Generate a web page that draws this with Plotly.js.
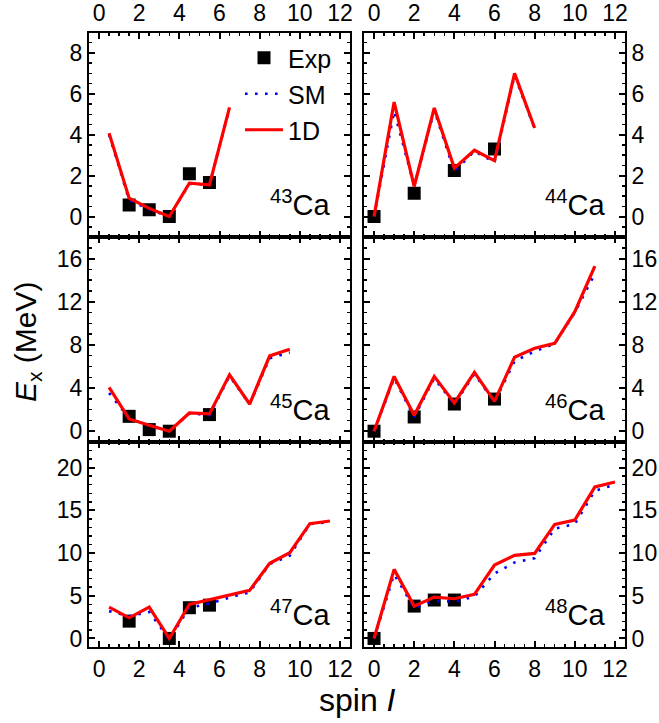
<!DOCTYPE html>
<html>
<head>
<meta charset="utf-8">
<script src="https://cdn.plot.ly/plotly-3.0.1.min.js"></script>
<style>html,body{margin:0;padding:0;background:#fff;}#plot{width:659px;height:723px;}</style>
</head>
<body>
<div id="plot"></div>
<script>
// ---- data (spin, excitation energy in MeV) ----
const isotopes = ["43", "44", "45", "46", "47", "48"];

const spin43 = [0.5, 1.5, 2.5, 3.5, 4.5, 5.5, 6.5];
const oneD43 = [4.08, 0.9, 0.4, 0.0, 1.63, 1.55, 5.34];
const sm43   = [4.0, 0.8, 0.35, 0.0, 1.6, 1.55, 5.3];
const expSpin43 = [1.5, 2.5, 3.5, 4.5, 5.5];
const exp43     = [0.57, 0.33, 0.0, 2.09, 1.67];

const spin44 = [0, 1, 2, 3, 4, 5, 6, 7, 8];
const oneD44 = [0, 5.6, 1.47, 5.31, 2.37, 3.24, 2.73, 7.0, 4.33];
const sm44   = [0, 5.15, 1.5, 5.2, 2.2, 3.2, 2.65, 6.9, 4.3];
const expSpin44 = [0, 2, 4, 6];
const exp44     = [0, 1.14, 2.25, 3.3];

const spin45 = [0.5, 1.5, 2.5, 3.5, 4.5, 5.5, 6.5, 7.5, 8.5, 9.5];
const oneD45 = [4.06, 1.14, 0.55, 0, 1.69, 1.6, 5.23, 2.52, 6.98, 7.6];
const sm45   = [3.54, 1.2, 0.5, 0, 1.65, 1.5, 5.1, 2.5, 6.77, 7.3];
const expSpin45 = [1.5, 2.5, 3.5, 5.5];
const exp45     = [1.38, 0.15, 0, 1.54];

const spin46 = [0, 1, 2, 3, 4, 5, 6, 7, 8, 9, 10, 11];
const oneD46 = [0, 5.08, 1.48, 5.08, 2.62, 5.45, 2.77, 6.86, 7.69, 8.15, 11.08, 15.3];
const sm46   = [0, 4.9, 1.3, 4.9, 2.5, 5.3, 2.7, 6.5, 7.4, 8.1, 11.0, 14.6];
const expSpin46 = [0, 2, 4, 6];
const exp46     = [0, 1.32, 2.52, 2.98];

const spin47 = [0.5, 1.5, 2.5, 3.5, 4.5, 5.5, 6.5, 7.5, 8.5, 9.5, 10.5, 11.5];
const oneD47 = [3.67, 2.42, 3.67, 0, 3.98, 4.5, 5.1, 5.63, 8.8, 10.04, 13.44, 13.75];
const sm47   = [3.2, 2.6, 3.1, -0.1, 3.6, 4.07, 4.8, 5.4, 8.7, 9.7, 13.4, 13.6];
const expSpin47 = [1.5, 3.5, 4.5, 5.5];
const exp47     = [2.03, 0, 3.6, 3.9];

const spin48 = [0, 1, 2, 3, 4, 5, 6, 7, 8, 9, 10, 11, 12];
const oneD48 = [0, 8.09, 3.79, 4.84, 4.65, 5.16, 8.6, 9.73, 9.96, 13.36, 13.87, 17.73, 18.32];
const sm48   = [0, 7.5, 3.6, 4.4, 4.3, 4.9, 7.6, 8.9, 9.4, 12.85, 13.4, 17.3, 18.0];
const expSpin48 = [0, 2, 3, 4];
const exp48     = [0, 3.79, 4.5, 4.5];

const xTickVals = [0, 2, 4, 6, 8, 10, 12];
const yRanges = [[-1, 9], [-1, 18], [-1, 23]];
const yMajor = [2, 4, 5];
const yMinor = [0.5, 1, 1];

// ---- build ----
const panels = [
  [spin43, oneD43, sm43, expSpin43, exp43],
  [spin44, oneD44, sm44, expSpin44, exp44],
  [spin45, oneD45, sm45, expSpin45, exp45],
  [spin46, oneD46, sm46, expSpin46, exp46],
  [spin47, oneD47, sm47, expSpin47, exp47],
  [spin48, oneD48, sm48, expSpin48, exp48]
];

const W = 659, H = 723;
const colX = [[89, 350], [364, 625]];
const rowY = [[32.5, 237], [237, 442], [442, 647]];
const FONT = "Liberation Sans, Arial, sans-serif";

const traces = [];
const layout = {
  width: W, height: H,
  margin: {l: 0, r: 0, t: 0, b: 0},
  paper_bgcolor: "#fff", plot_bgcolor: "#fff",
  font: {family: FONT, color: "#000", size: 22},
  showlegend: true,
  annotations: []
};

panels.forEach((p, i) => {
  const n = i + 1;
  const sfx = n === 1 ? "" : String(n);
  const col = i % 2, row = Math.floor(i / 2);
  const xa = "x" + sfx, ya = "y" + sfx;
  const first = i === 0;
  traces.push({x: p[3], y: p[4], xaxis: xa, yaxis: ya, type: "scatter", mode: "markers",
    name: "Exp", showlegend: first, legend: "legend",
    marker: {symbol: "square", size: 13, color: "#000"}});
  traces.push({x: p[0], y: p[2], xaxis: xa, yaxis: ya, type: "scatter", mode: "lines",
    name: "SM", showlegend: first, legend: "legend2",
    line: {color: "#0000ff", width: 2.6, dash: "2.6px,7.4px"}});
  traces.push({x: p[0], y: p[1], xaxis: xa, yaxis: ya, type: "scatter", mode: "lines",
    name: "1D", showlegend: first, legend: "legend3",
    line: {color: "#ff0000", width: 3.2}});

  const common = {
    showline: true, linewidth: 2, linecolor: "#000", mirror: "allticks",
    ticks: "inside", ticklen: 6, tickwidth: 2, tickcolor: "#000",
    showgrid: false, zeroline: false, fixedrange: true,
    tickfont: {family: FONT, size: 23, color: "#000"}
  };
  layout["xaxis" + sfx] = Object.assign({}, common, {
    domain: [colX[col][0] / W, colX[col][1] / W],
    anchor: ya, range: [-0.5, 12.5],
    tickvals: xTickVals, ticktext: xTickVals.map(String),
    side: row === 0 ? "top" : "bottom",
    showticklabels: row !== 1,
    minor: {dtick: 0.5, tick0: 0, ticks: "inside", ticklen: 3, tickwidth: 1.5, tickcolor: "#000"}
  });
  layout["yaxis" + sfx] = Object.assign({}, common, {
    domain: [1 - rowY[row][1] / H, 1 - rowY[row][0] / H],
    anchor: xa, range: yRanges[row],
    tick0: 0, dtick: yMajor[row],
    side: col === 0 ? "left" : "right",
    minor: {dtick: yMinor[row], tick0: 0, ticks: "inside", ticklen: 3, tickwidth: 1.5, tickcolor: "#000"}
  });
  layout.annotations.push({
    xref: xa + " domain", yref: ya + " domain", x: 0.935, y: 0.07,
    xanchor: "right", yanchor: "bottom", showarrow: false,
    text: "<sup>" + isotopes[i] + "</sup>Ca",
    font: {family: FONT, size: 29, color: "#000"}
  });
});

const legCommon = {xanchor: "left", yanchor: "middle", bgcolor: "rgba(0,0,0,0)",
  borderwidth: 0, font: {family: FONT, size: 25, color: "#000"},
  itemwidth: 38};
layout.legend  = Object.assign({}, legCommon, {x: 240 / W, y: 1 - 58 / H});
layout.legend2 = Object.assign({}, legCommon, {x: 240 / W, y: 1 - 94 / H});
layout.legend3 = Object.assign({}, legCommon, {x: 240 / W, y: 1 - 130 / H});

layout.annotations.push({
  xref: "paper", yref: "paper", x: 27 / W, y: 1 - 342 / H, textangle: -90,
  showarrow: false, xanchor: "center", yanchor: "middle",
  text: "<i>E</i><sub>x</sub> (MeV)",
  font: {family: FONT, size: 30, color: "#000"}
});
layout.annotations.push({
  xref: "paper", yref: "paper", x: 358 / W, y: 1 - 700 / H,
  showarrow: false, xanchor: "center", yanchor: "middle",
  text: "spin <i>I</i>",
  font: {family: FONT, size: 32, color: "#000"}
});

Plotly.newPlot("plot", traces, layout, {staticPlot: true, displayModeBar: false});
</script>
</body>
</html>
